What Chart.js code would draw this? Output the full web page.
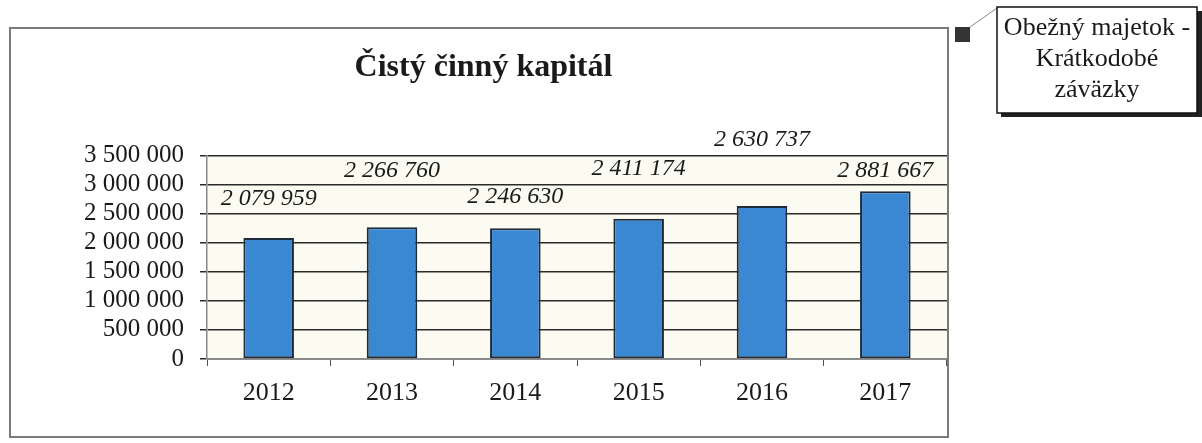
<!DOCTYPE html>
<html>
<head>
<meta charset="utf-8">
<script src="https://cdn.jsdelivr.net/npm/chart.js@4/dist/chart.umd.min.js"></script>
<style>
  body { margin: 0; background: #ffffff; }
  #wrap { width: 1202px; height: 443px; }
</style>
</head>
<body>
<div id="wrap"><canvas id="capitalChart" width="1202" height="443"></canvas></div>
<script>
const years = ['2012', '2013', '2014', '2015', '2016', '2017'];
const capital = [2079959, 2266760, 2246630, 2411174, 2630737, 2881667];
const seriesName = ['Obežný majetok -', 'Krátkodobé', 'záväzky'];
const chartTitle = 'Čistý činný kapitál';

// labels were dragged around by hand in the original, so keep the lift per bar
const labelLift = [39, 56, 32, 50, 66, 21];

const serif = '"Liberation Serif", "Times New Roman", serif';

function spaced(n) {
    return String(Math.round(n)).replace(/\B(?=(\d{3})+(?!\d))/g, ' ');
}

// cream plot background, outer frame and the boxed legend
const decor = {
    id: 'decor',
    beforeDraw(chart) {
        const ctx = chart.ctx;
        const a = chart.chartArea;
        ctx.save();
        ctx.fillStyle = '#fcfbf1';
        ctx.fillRect(a.left, a.top, a.right - a.left, a.bottom - a.top);
        ctx.restore();
    },
    afterDraw(chart) {
        const ctx = chart.ctx;
        ctx.save();
        ctx.strokeStyle = '#7a7a7a';
        ctx.lineWidth = 2;
        ctx.strokeRect(10, 28, 938, 409);

        // legend marker + connector
        ctx.fillStyle = '#333333';
        ctx.fillRect(955, 27, 15, 15);
        ctx.strokeStyle = '#888888';
        ctx.lineWidth = 1;
        ctx.beginPath();
        ctx.moveTo(970, 27);
        ctx.lineTo(997, 8);
        ctx.stroke();

        // legend box with drop shadow
        ctx.fillStyle = '#222222';
        ctx.fillRect(1001, 11, 201, 106);
        ctx.fillStyle = '#ffffff';
        ctx.fillRect(997, 7, 200, 106);
        ctx.strokeStyle = '#111111';
        ctx.lineWidth = 1.5;
        ctx.strokeRect(997, 7, 200, 106);

        ctx.fillStyle = '#1a1a1a';
        ctx.font = '26px ' + serif;
        ctx.textAlign = 'center';
        ctx.textBaseline = 'middle';
        seriesName.forEach((line, i) => {
            ctx.fillText(line, 1097, 28 + i * 31);
        });
        ctx.restore();
    }
};

const valueLabels = {
    id: 'valueLabels',
    afterDatasetsDraw(chart) {
        const ctx = chart.ctx;
        const meta = chart.getDatasetMeta(0);
        ctx.save();
        ctx.fillStyle = '#1a1a1a';
        ctx.font = 'italic 24px ' + serif;
        ctx.textAlign = 'center';
        ctx.textBaseline = 'middle';
        meta.data.forEach((bar, i) => {
            ctx.fillText(spaced(capital[i]), bar.x, bar.y - labelLift[i]);
        });
        ctx.restore();
    }
};

const ctx = document.getElementById('capitalChart').getContext('2d');
new Chart(ctx, {
    type: 'bar',
    data: {
        labels: years,
        datasets: [{
            label: seriesName.join(' '),
            data: capital,
            backgroundColor: '#3b88d2',
            borderColor: '#1d2b3a',
            borderWidth: 2,
            borderSkipped: false,
            barPercentage: 0.41,
            categoryPercentage: 1
        }]
    },
    options: {
        responsive: false,
        animation: false,
        layout: {
            padding: { left: 20, right: 255, top: 0, bottom: 0 }
        },
        plugins: {
            legend: { display: false },
            tooltip: { enabled: false },
            title: {
                display: true,
                text: chartTitle,
                color: '#1a1a1a',
                font: { family: serif, size: 32, weight: 'bold' },
                padding: { top: 49, bottom: 68 }
            }
        },
        scales: {
            x: {
                afterFit: (scale) => { scale.height = 84; },
                border: { display: true, color: '#888888', width: 1.5 },
                grid: {
                    drawOnChartArea: false,
                    drawTicks: true,
                    tickLength: 7,
                    color: '#555555'
                },
                ticks: {
                    color: '#1a1a1a',
                    padding: 12,
                    font: { family: serif, size: 26 }
                }
            },
            y: {
                min: 0,
                max: 3500000,
                afterFit: (scale) => { scale.width = 187; },
                border: { display: true, color: '#888888', width: 1.5 },
                grid: {
                    color: '#2a2a2a',
                    lineWidth: 1.5,
                    drawTicks: true,
                    tickLength: 7
                },
                ticks: {
                    stepSize: 500000,
                    autoSkip: false,
                    color: '#1a1a1a',
                    padding: 16,
                    font: { family: serif, size: 25 },
                    callback: (v) => spaced(v)
                }
            }
        }
    },
    plugins: [decor, valueLabels]
});
</script>
</body>
</html>
